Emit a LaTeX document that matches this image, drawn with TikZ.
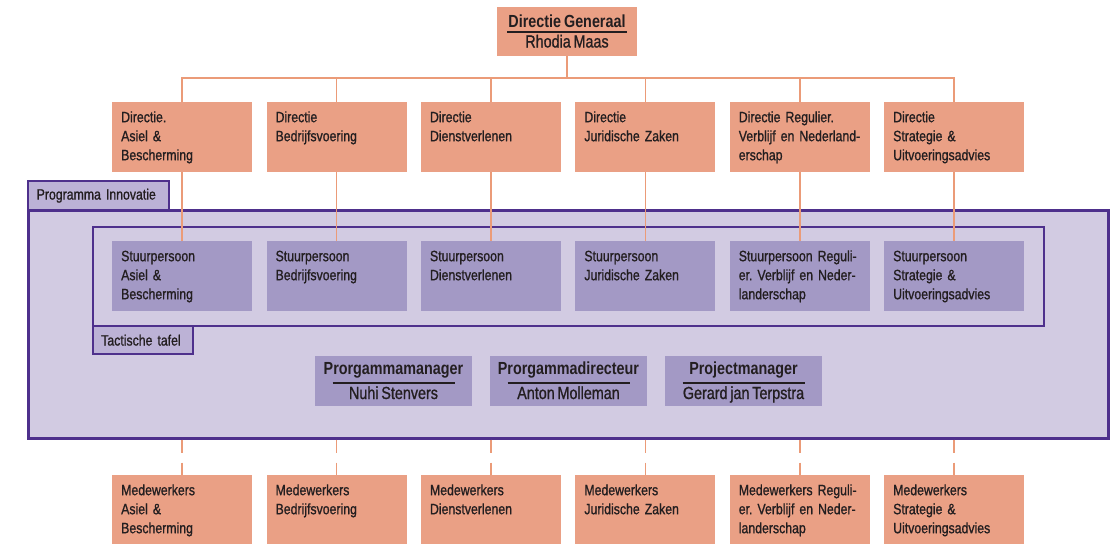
\documentclass[tikz,border=0pt]{standalone}
\usepackage{fontspec}
\setmainfont{Liberation Sans}[FakeStretch=0.82, WordSpace=0.75, UprightFeatures={FakeBold=1, WordSpace=0.7}]
\frenchspacing
\definecolor{salmon}{RGB}{234,160,133}
\definecolor{conn}{RGB}{235,155,120}
\definecolor{lav}{RGB}{210,203,226}
\definecolor{midp}{RGB}{163,153,197}
\definecolor{tabp}{RGB}{188,178,214}
\definecolor{bord}{RGB}{78,48,140}
\definecolor{txt}{RGB}{35,30,32}
\begin{document}
\begin{tikzpicture}[x=1pt,y=-1pt,
  cell/.style={rectangle, anchor=north west, minimum width=140pt, text width=122pt,
    inner xsep=9pt, inner ysep=0pt, text height=20pt, text depth=50pt, align=left,
    font=\fontsize{15}{19}\selectfont, text=txt},
  dirbox/.style={cell, fill=salmon},
  medbox/.style={cell, fill=salmon, text depth=49pt},
  stbox/.style={cell, fill=midp},
  mgrbox/.style={rectangle, anchor=north west, fill=midp, minimum width=157pt, minimum height=50pt, inner sep=0pt},
  bigtitle/.style={anchor=base, inner sep=0pt, font=\fontsize{17.5}{19}\selectfont\bfseries, text=txt},
  bigname/.style={anchor=base, inner sep=0pt, font=\fontsize{17.5}{19}\selectfont, text=txt},
  uline/.style={line width=1.1pt, txt},
  tabbox/.style={rectangle, anchor=north west, fill=tabp, draw=bord, line width=2.4pt,
    inner xsep=8pt, inner ysep=0pt, align=left, font=\fontsize{15}{17}\selectfont, text=txt},
  link/.style={draw=conn, line width=1.7pt},
  dlink/.style={link, dash pattern=on 13pt off 10pt on 20pt off 0pt}
]
\useasboundingbox[fill=white] (0,0) rectangle (1113,544);

% containers
\node[rectangle, anchor=north west, fill=lav, draw=bord, line width=2.6pt,
  minimum width=1080pt, minimum height=228pt, inner sep=0pt] (pi) at (27,209) {};
\node[tabbox, minimum width=141pt, minimum height=29pt, text width=124pt] (pitab) at (27,180) {Programma Innovatie};
\node[rectangle, anchor=north west, fill=lav, draw=bord, line width=2.2pt,
  minimum width=951pt, minimum height=99pt, inner sep=0pt] (tt) at (92,226) {};
\node[tabbox, minimum width=97pt, minimum height=28pt, text width=84pt] (tttab) at (92,325) {Tactische tafel};

% top
\node[rectangle, anchor=north west, fill=salmon, minimum width=140pt, minimum height=49pt, inner sep=0pt] (dg) at (497,7) {};
\node[bigtitle] (dgt) at (567,27) {Directie Generaal};
\node[bigname] (dgn) at (567,47.5) {Rhodia Maas};
\draw[uline] (507,32) -- (627,32);

% directies
\node[dirbox] (d1) at (112,102) {Directie.\\Asiel \&\\Bescherming};
\node[dirbox] (d2) at (266.4,102) {Directie\\Bedrijfsvoering};
\node[dirbox] (d3) at (420.8,102) {Directie\\Dienstverlenen};
\node[dirbox] (d4) at (575.2,102) {Directie\\Juridische Zaken};
\node[dirbox] (d5) at (729.6,102) {Directie Regulier.\\Verblijf en Nederland-\\erschap};
\node[dirbox] (d6) at (884,102) {Directie\\Strategie \&\\Uitvoeringsadvies};

% stuurpersonen
\node[stbox] (s1) at (112,241) {Stuurpersoon\\Asiel \&\\Bescherming};
\node[stbox] (s2) at (266.4,241) {Stuurpersoon\\Bedrijfsvoering};
\node[stbox] (s3) at (420.8,241) {Stuurpersoon\\Dienstverlenen};
\node[stbox] (s4) at (575.2,241) {Stuurpersoon\\Juridische Zaken};
\node[stbox] (s5) at (729.6,241) {Stuurpersoon Reguli-\\er. Verblijf en Neder-\\landerschap};
\node[stbox] (s6) at (884,241) {Stuurpersoon\\Strategie \&\\Uitvoeringsadvies};

% managers
\node[mgrbox] (m1) at (315,356) {};
\node[mgrbox] (m2) at (490,356) {};
\node[mgrbox] (m3) at (665,356) {};
\node[bigtitle] (m1t) at (393.5,374.5) {Prorgammamanager};
\node[bigname] (m1n) at (393.5,399) {Nuhi Stenvers};
\node[bigtitle] (m2t) at (568.5,374.5) {Prorgammadirecteur};
\node[bigname] (m2n) at (568.5,399) {Anton Molleman};
\node[bigtitle] (m3t) at (743.5,374.5) {Projectmanager};
\node[bigname] (m3n) at (743.5,399) {Gerard jan Terpstra};
\draw[uline] (332.5,383) -- (454.5,383);
\draw[uline] (507.5,383) -- (629.5,383);
\draw[uline] (682.5,383) -- (804.5,383);

% medewerkers
\node[medbox] (w1) at (112,475) {Medewerkers\\Asiel \&\\Bescherming};
\node[medbox] (w2) at (266.4,475) {Medewerkers\\Bedrijfsvoering};
\node[medbox] (w3) at (420.8,475) {Medewerkers\\Dienstverlenen};
\node[medbox] (w4) at (575.2,475) {Medewerkers\\Juridische Zaken};
\node[medbox] (w5) at (729.6,475) {Medewerkers Reguli-\\er. Verblijf en Neder-\\landerschap};
\node[medbox] (w6) at (884,475) {Medewerkers\\Strategie \&\\Uitvoeringsadvies};

% connectors
\coordinate (bus) at (0,78);
\draw[link] (dg.south) -- (dg.south |- bus);
\draw[link] (d1.north) |- (d6.north |- bus) -- (d6.north);
\foreach \i in {2,3,4,5}{
  \draw[link] (d\i.north) -- (d\i.north |- bus);
}
\foreach \i in {1,...,6}{
  \draw[link] (d\i.south) -- (s\i.north);
  \draw[dlink] (w\i.north |- pi.south) -- (w\i.north);
}
\end{tikzpicture}
\end{document}
